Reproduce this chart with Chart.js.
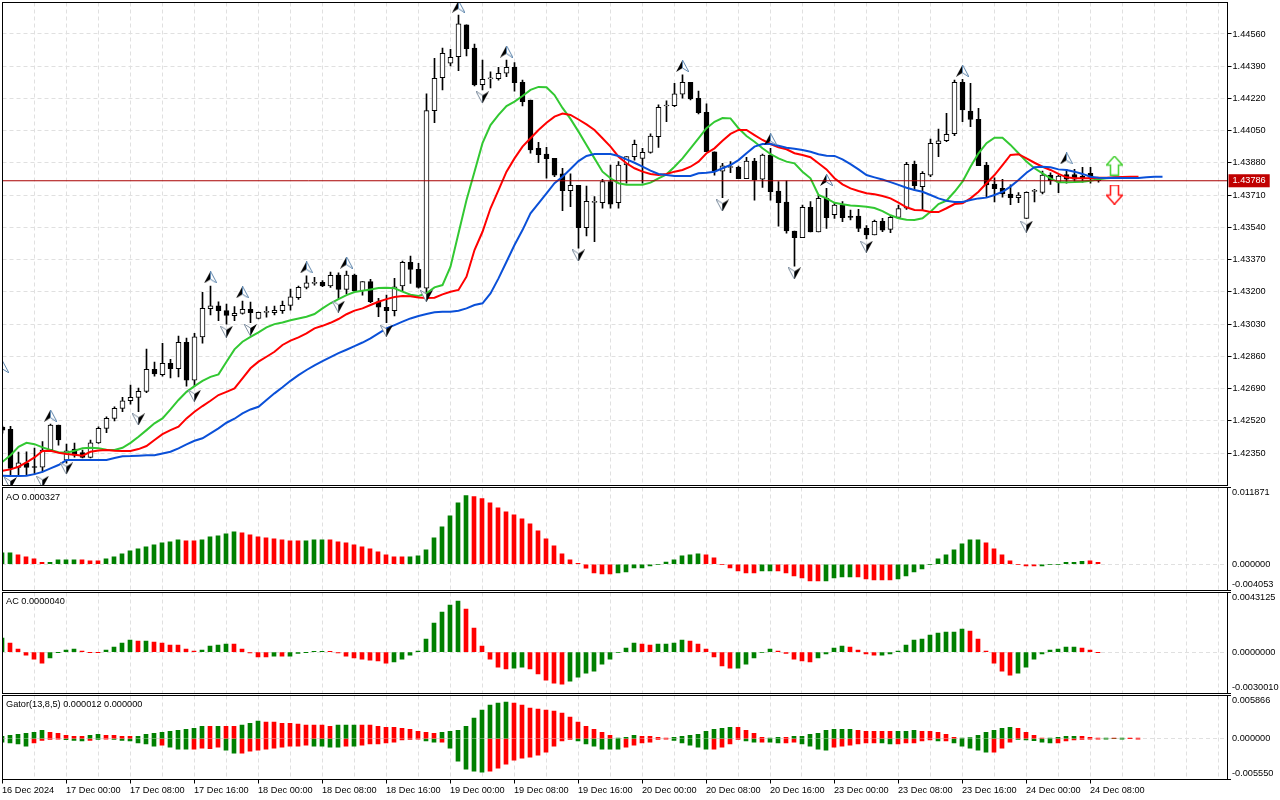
<!DOCTYPE html>
<html>
<head>
<meta charset="utf-8">
<style>
body { margin: 0; background: #fff; width: 1280px; height: 800px; overflow: hidden; position: relative; }
canvas { position: absolute; left: 0; }
.frame { position: absolute; left: 2px; width: 1226px; box-sizing: border-box; border: 1px solid #000; pointer-events: none; }
.notch { position: absolute; left: 1228px; width: 3px; height: 1px; background: #000; }
.pane-title { position: absolute; left: 6px; font: 9.2px/12px "Liberation Sans", sans-serif; color: #000; }
</style>
</head>
<body>
<canvas id="main-chart" width="1280" height="486" style="top:0"></canvas>
<canvas id="ao-chart" width="1280" height="104" style="top:487px"></canvas>
<canvas id="ac-chart" width="1280" height="102" style="top:592px"></canvas>
<canvas id="gator-chart" width="1280" height="105" style="top:695px"></canvas>
<div class="frame" style="top:2px;height:484px"></div>
<div class="frame" style="top:487px;height:104px"></div>
<div class="frame" style="top:592px;height:102px"></div>
<div class="frame" style="top:695px;height:85px"></div>
<div class="notch" style="top:487px"></div><div class="notch" style="top:590px"></div>
<div class="notch" style="top:592px"></div><div class="notch" style="top:693px"></div>
<div class="notch" style="top:695px"></div><div class="notch" style="top:779px"></div>
<div class="pane-title" style="top:491px">AO 0.000327</div>
<div class="pane-title" style="top:595px">AC 0.0000040</div>
<div class="pane-title" style="top:698px">Gator(13,8,5) 0.000012 0.000000</div>
<script src="https://cdn.jsdelivr.net/npm/chart.js@4"></script>
<script>
const xTickLabels = ["16 Dec 2024", "17 Dec 00:00", "17 Dec 08:00", "17 Dec 16:00", "18 Dec 00:00", "18 Dec 08:00",
    "18 Dec 16:00", "19 Dec 00:00", "19 Dec 08:00", "19 Dec 16:00", "20 Dec 00:00", "20 Dec 08:00", "20 Dec 16:00",
    "23 Dec 00:00", "23 Dec 08:00", "23 Dec 16:00", "24 Dec 00:00", "24 Dec 08:00"];
const priceTicks = [1.4456, 1.4439, 1.4422, 1.4405, 1.4388, 1.4371, 1.4354, 1.4337, 1.432, 1.4303, 1.4286, 1.4269, 1.4252, 1.4235];
const lastPrice = 1.43786;

const candleOpen = [
    1.42487,1.42475,1.42275,1.42299,1.42275,1.42276,1.42366,1.42498,1.42313,1.42371,
    1.42352,1.42327,1.42404,1.42480,1.42533,1.42586,1.42626,1.42644,1.42675,1.42791,
    1.42763,1.42823,1.42795,1.42934,1.42735,1.42963,1.43111,1.43127,1.43101,1.43074,
    1.43087,1.43108,1.43060,1.43092,1.43090,1.43101,1.43129,1.43169,1.43224,1.43245,
    1.43250,1.43232,1.43289,1.43213,1.43289,1.43206,1.43254,1.43148,1.43119,1.43101,
    1.43231,1.43356,1.43319,1.43219,1.44156,1.44330,1.44406,1.44440,1.44608,1.44485,
    1.44293,1.44323,1.44324,1.44353,1.44384,1.44305,1.44212,1.43957,1.43927,1.43904,
    1.43822,1.43734,1.43762,1.43538,1.43672,1.43670,1.43781,1.43670,1.43869,1.43913,
    1.43904,1.43936,1.44018,1.44180,1.44182,1.44242,1.44305,1.44221,1.44147,1.43939,
    1.43837,1.43856,1.43857,1.43797,1.43890,1.43794,1.43922,1.43732,1.43674,1.43521,
    1.43486,1.43646,1.43516,1.43693,1.43607,1.43658,1.43596,1.43600,1.43535,1.43501,
    1.43572,1.43530,1.43593,1.43641,1.43873,1.43755,1.43816,1.43981,1.43997,1.44034,
    1.44305,1.44154,1.44110,1.43869,1.43769,1.43746,1.43716,1.43697,1.43588,1.43730,
    1.43725,1.43816,1.43779,1.43818,1.43818,1.43811,1.43825,1.43790];
const candleHigh = [
    1.42492,1.42491,1.42355,1.42357,1.42376,1.42410,1.42503,1.42498,1.42397,1.42403,
    1.42366,1.42419,1.42489,1.42541,1.42594,1.42644,1.42709,1.42693,1.42899,1.42830,
    1.42929,1.42844,1.42967,1.42957,1.42981,1.43198,1.43231,1.43148,1.43136,1.43122,
    1.43152,1.43146,1.43094,1.43122,1.43125,1.43152,1.43215,1.43231,1.43284,1.43277,
    1.43259,1.43305,1.43301,1.43310,1.43294,1.43254,1.43266,1.43166,1.43183,1.43271,
    1.43363,1.43389,1.43351,1.44244,1.44432,1.44485,1.44479,1.44660,1.44608,1.44507,
    1.44423,1.44360,1.44384,1.44423,1.44409,1.44317,1.44212,1.43989,1.43962,1.43904,
    1.43852,1.43822,1.43762,1.43758,1.43702,1.43794,1.43869,1.43887,1.43913,1.44001,
    1.43957,1.44033,1.44186,1.44208,1.44300,1.44344,1.44305,1.44259,1.44191,1.43939,
    1.43878,1.43887,1.43864,1.43910,1.43904,1.43927,1.43957,1.43781,1.43785,1.43521,
    1.43658,1.43676,1.43711,1.43746,1.43670,1.43676,1.43632,1.43635,1.43549,1.43579,
    1.43588,1.43600,1.43658,1.43883,1.43890,1.43834,1.44006,1.44059,1.44142,1.44317,
    1.44321,1.44300,1.44168,1.43883,1.43801,1.43794,1.43764,1.43723,1.43728,1.43741,
    1.43837,1.43828,1.43816,1.43846,1.43846,1.43857,1.43857,1.43801];
const candleLow = [
    1.42455,1.42225,1.42229,1.42234,1.42239,1.42251,1.42357,1.42392,1.42297,1.42329,
    1.42324,1.42324,1.42401,1.42457,1.42520,1.42568,1.42608,1.42568,1.42668,1.42756,
    1.42756,1.42746,1.42752,1.42703,1.42703,1.42929,1.43078,1.43048,1.43030,1.43048,
    1.43083,1.43037,1.43058,1.43066,1.43079,1.43087,1.43104,1.43160,1.43215,1.43235,
    1.43227,1.43224,1.43166,1.43189,1.43201,1.43183,1.43143,1.43069,1.43037,1.43073,
    1.43201,1.43245,1.43219,1.43174,1.44092,1.44265,1.44391,1.44366,1.44444,1.44286,
    1.44265,1.44275,1.44317,1.44335,1.44259,1.44180,1.43931,1.43881,1.43799,1.43807,
    1.43628,1.43649,1.43430,1.43495,1.43465,1.43641,1.43641,1.43641,1.43773,1.43895,
    1.43773,1.43931,1.43962,1.44097,1.44177,1.44221,1.44212,1.44138,1.43939,1.43816,
    1.43697,1.43828,1.43797,1.43797,1.43684,1.43751,1.43684,1.43547,1.43509,1.43336,
    1.43486,1.43516,1.43516,1.43535,1.43588,1.43570,1.43579,1.43517,1.43479,1.43500,
    1.43517,1.43512,1.43588,1.43635,1.43737,1.43632,1.43807,1.43913,1.43992,1.44024,
    1.44097,1.44071,1.43865,1.43699,1.43674,1.43699,1.43660,1.43670,1.43588,1.43674,
    1.43716,1.43767,1.43723,1.43773,1.43781,1.43779,1.43773,1.43778];
const candleClose = [
    1.42471,1.42269,1.42299,1.42275,1.42274,1.42366,1.42498,1.42419,1.42362,1.42339,
    1.42327,1.42404,1.42480,1.42533,1.42586,1.42626,1.42644,1.42675,1.42791,1.42767,
    1.42823,1.42795,1.42934,1.42735,1.42963,1.43113,1.43127,1.43101,1.43076,1.43087,
    1.43108,1.43090,1.43092,1.43094,1.43103,1.43129,1.43174,1.43224,1.43248,1.43247,
    1.43232,1.43287,1.43213,1.43289,1.43206,1.43254,1.43148,1.43119,1.43101,1.43227,
    1.43356,1.43319,1.43224,1.44156,1.44326,1.44458,1.44437,1.44613,1.44483,1.44291,
    1.44321,1.44324,1.44353,1.44384,1.44303,1.44203,1.43948,1.43923,1.43902,1.43816,
    1.43734,1.43762,1.43538,1.43678,1.43674,1.43781,1.43663,1.43869,1.43913,1.43978,
    1.43936,1.44022,1.44173,1.44182,1.44244,1.44305,1.44217,1.44145,1.43939,1.43839,
    1.43865,1.43860,1.43797,1.43890,1.43790,1.43922,1.43728,1.43670,1.43521,1.43486,
    1.43646,1.43516,1.43693,1.43591,1.43658,1.43591,1.43593,1.43535,1.43500,1.43572,
    1.43526,1.43593,1.43639,1.43873,1.43760,1.43825,1.43984,1.43997,1.44031,1.44305,
    1.44159,1.44110,1.43865,1.43764,1.43744,1.43716,1.43697,1.43711,1.43725,1.43732,
    1.43816,1.43786,1.43811,1.43794,1.43794,1.43797,1.43804,1.43786];

const lipsLine = [
    1.42304,1.42339,1.42383,1.42404,1.42397,1.42380,1.42366,1.42355,1.42352,1.42362,
    1.42375,1.42378,1.42375,1.42367,1.42366,1.42378,1.42404,1.42436,1.42471,1.42507,
    1.42533,1.42580,1.42630,1.42673,1.42703,1.42731,1.42752,1.42765,1.42832,1.42897,
    1.42937,1.42963,1.42987,1.43013,1.43030,1.43039,1.43050,1.43060,1.43069,1.43083,
    1.43113,1.43140,1.43162,1.43183,1.43199,1.43206,1.43213,1.43220,1.43222,1.43219,
    1.43201,1.43185,1.43178,1.43192,1.43224,1.43236,1.43333,1.43509,1.43684,1.43834,
    1.43984,1.44080,1.44133,1.44180,1.44203,1.44233,1.44265,1.44281,1.44279,1.44238,
    1.44170,1.44112,1.44045,1.43975,1.43904,1.43834,1.43799,1.43773,1.43765,1.43765,
    1.43765,1.43776,1.43799,1.43820,1.43860,1.43904,1.43957,1.44010,1.44063,1.44097,
    1.44117,1.44115,1.44063,1.44022,1.43992,1.43957,1.43927,1.43904,1.43887,1.43878,
    1.43834,1.43799,1.43711,1.43693,1.43670,1.43662,1.43656,1.43653,1.43649,1.43642,
    1.43626,1.43604,1.43588,1.43581,1.43579,1.43588,1.43623,1.43663,1.43681,1.43728,
    1.43781,1.43860,1.43931,1.43984,1.44013,1.44013,1.43975,1.43931,1.43887,1.43852,
    1.43825,1.43799,1.43778,1.43778,1.43779,1.43781,1.43786,1.43794,1.43799,1.43802,1.43802];
const teethLine = [
    1.42257,1.42264,1.42278,1.42301,1.42327,1.42361,1.42362,1.42352,1.42345,1.42341,
    1.42336,1.42357,1.42364,1.42366,1.42362,1.42361,1.42361,1.42371,1.42387,1.42419,
    1.42450,1.42471,1.42489,1.42533,1.42568,1.42598,1.42626,1.42656,1.42673,1.42691,
    1.42744,1.42797,1.42832,1.42858,1.42884,1.42920,1.42943,1.42960,1.42981,1.43008,
    1.43021,1.43037,1.43057,1.43082,1.43101,1.43113,1.43131,1.43148,1.43162,1.43173,
    1.43178,1.43177,1.43171,1.43168,1.43169,1.43187,1.43201,1.43210,1.43280,1.43421,
    1.43517,1.43641,1.43737,1.43834,1.43904,1.43966,1.44010,1.44054,1.44092,1.44124,
    1.44140,1.44133,1.44109,1.44083,1.44054,1.44010,1.43966,1.43913,1.43878,1.43852,
    1.43834,1.43822,1.43816,1.43822,1.43834,1.43843,1.43860,1.43887,1.43931,1.43957,
    1.43997,1.44033,1.44054,1.44054,1.44027,1.44001,1.43980,1.43962,1.43952,1.43931,
    1.43922,1.43910,1.43878,1.43846,1.43799,1.43767,1.43746,1.43732,1.43720,1.43715,
    1.43706,1.43693,1.43671,1.43646,1.43632,1.43630,1.43621,1.43621,1.43641,1.43663,
    1.43667,1.43693,1.43728,1.43773,1.43816,1.43869,1.43922,1.43926,1.43904,1.43881,
    1.43860,1.43843,1.43822,1.43804,1.43799,1.43799,1.43799,1.43802,1.43802,1.43804,
    1.43806,1.43807,1.43807];
const jawLine = [
    1.42230,1.42229,1.42229,1.42230,1.42239,1.42251,1.42269,1.42287,1.42313,1.42313,
    1.42313,1.42313,1.42313,1.42313,1.42324,1.42333,1.42334,1.42336,1.42338,1.42339,
    1.42348,1.42357,1.42375,1.42396,1.42415,1.42428,1.42454,1.42480,1.42510,1.42531,
    1.42559,1.42580,1.42594,1.42630,1.42665,1.42697,1.42731,1.42761,1.42788,1.42813,
    1.42835,1.42856,1.42877,1.42895,1.42914,1.42933,1.42955,1.42981,1.43008,1.43025,
    1.43043,1.43060,1.43073,1.43083,1.43092,1.43095,1.43095,1.43101,1.43113,1.43131,
    1.43140,1.43192,1.43271,1.43359,1.43447,1.43526,1.43614,1.43667,1.43720,1.43773,
    1.43807,1.43848,1.43890,1.43917,1.43927,1.43927,1.43927,1.43917,1.43899,1.43881,
    1.43860,1.43839,1.43822,1.43816,1.43811,1.43811,1.43811,1.43825,1.43828,1.43834,
    1.43852,1.43869,1.43895,1.43931,1.43966,1.43980,1.43980,1.43971,1.43960,1.43955,
    1.43948,1.43939,1.43926,1.43918,1.43917,1.43899,1.43874,1.43846,1.43816,1.43804,
    1.43793,1.43779,1.43764,1.43749,1.43737,1.43728,1.43711,1.43693,1.43681,1.43674,
    1.43674,1.43684,1.43693,1.43697,1.43711,1.43728,1.43755,1.43790,1.43828,1.43857,
    1.43860,1.43857,1.43846,1.43843,1.43834,1.43822,1.43807,1.43802,1.43801,1.43802,
    1.43801,1.43801,1.43801,1.43804,1.43807,1.43807];

const fractalUpBars = [0, 6, 26, 30, 38, 43, 57, 63, 85, 96, 103, 120, 133];
const fractalUpPrices = [1.42804, 1.42547, 1.43277, 1.43198, 1.43329, 1.43354, 1.44704, 1.44467, 1.44391, 1.44005, 1.43790, 1.44366, 1.43904];
const fractalDownBars = [1, 5, 8, 17, 24, 28, 31, 42, 48, 53, 60, 72, 90, 99, 108, 128];
const fractalDownPrices = [1.42192, 1.42199, 1.42269, 1.42528, 1.42652, 1.42990, 1.42999, 1.43122, 1.42995, 1.43178, 1.44226, 1.43392, 1.43656, 1.43298, 1.43438, 1.43544];
const signalBars = [139, 139];
const signalPrices = [1.43866, 1.43713];

const aoValues = [
    .00176,.00176,.00145,.00114,.00083,.00031,.00031,.00067,.00067,.00067,
    .00067,.00052,.00052,.00083,.00114,.00160,.00207,.00238,.00269,.00300,
    .00331,.00347,.00378,.00362,.00362,.00378,.00424,.00440,.00471,.00502,
    .00486,.00455,.00424,.00409,.00393,.00378,.00362,.00362,.00362,.00378,
    .00378,.00378,.00347,.00331,.00300,.00269,.00238,.00191,.00145,.00114,
    .00114,.00114,.00129,.00222,.00409,.00579,.00750,.00952,.01061,.01045,
    .01014,.00952,.00874,.00812,.00766,.00704,.00626,.00517,.00393,.00285,
    .00160,.00067,.00016,-.00062,-.00135,-.00150,-.00150,-.00135,-.00119,-.00057,
    -.00057,-.00026,-.00005,.00036,.00067,.00129,.00145,.00160,.00145,.00098,
    -.00005,-.00057,-.00103,-.00135,-.00135,-.00103,-.00103,-.00103,-.00135,-.00181,
    -.00212,-.00259,-.00259,-.00259,-.00212,-.00197,-.00197,-.00197,-.00228,-.00243,
    -.00243,-.00243,-.00228,-.00181,-.00119,-.00072,-.00005,.00083,.00145,.00222,
    .00316,.00378,.00378,.00331,.00238,.00145,.00052,-.00005,-.00026,-.00026,
    -.00026,-.00005,-.00005,.00031,.00031,.00047,.00052,.00031];
const aoRising = "11" + "0000" + "1111" + "000" + "1111111111" + "00" + "11111" + "00000000" + "111" + "0000000000" +
    "11111111" + "000000000000000000" + "11111111111" + "0000000" + "11" + "000000" + "1111" + "00000" +
    "11111111111" + "0000000" + "111111" + "00";

const acValues = [
    .00101,.00065,.00022,-.00022,-.00051,-.00080,-.00043,-.00002,.00014,.00022,
    .00007,-.00002,-.00002,.00014,.00036,.00065,.00087,.00080,.00080,.00072,
    .00065,.00051,.00051,.00022,.00007,.00014,.00043,.00051,.00058,.00058,
    .00022,-.00007,-.00036,-.00036,-.00029,-.00029,-.00029,-.00010,-.00002,.00005,
    .00005,.00005,-.00007,-.00029,-.00043,-.00051,-.00058,-.00065,-.00080,-.00072,
    -.00051,-.00022,.00007,.00094,.00210,.00290,.00340,.00369,.00311,.00174,
    .00043,-.00051,-.00109,-.00123,-.00116,-.00109,-.00123,-.00159,-.00203,-.00225,
    -.00232,-.00210,-.00181,-.00152,-.00138,-.00087,-.00051,-.00005,.00029,.00065,
    .00058,.00051,.00058,.00058,.00065,.00087,.00080,.00058,.00022,-.00036,
    -.00101,-.00116,-.00116,-.00087,-.00043,-.00005,.00022,.00007,-.00010,-.00051,
    -.00065,-.00072,-.00043,-.00014,.00029,.00043,.00036,.00014,-.00014,-.00022,
    -.00022,-.00014,.00007,.00051,.00087,.00094,.00123,.00138,.00145,.00145,
    .00167,.00152,.00094,.00007,-.00080,-.00138,-.00167,-.00152,-.00109,-.00051,
    -.00014,.00014,.00022,.00036,.00036,.00029,.00014,-.00002];
const acRising = "1" + "00000" + "1111" + "000" + "1111" + "0" + "1" + "000000" + "1111" + "00000" + "1" + "0" + "11111" +
    "00000000" + "111111111" + "000000" + "11" + "00000" + "111111111" + "00" + "1111" + "000000" + "11111" +
    "00000" + "1111" + "0000" + "11111111111" + "000000" + "11111111" + "000";

const gatorUpper = [
    .00032,.00046,.00059,.00073,.00087,.00114,.00087,.00073,.00046,.00032,
    .00032,.00046,.00059,.00046,.00046,.00032,.00032,.00032,.00059,.00073,
    .00087,.00101,.00114,.00128,.00142,.00169,.00169,.00169,.00169,.00169,
    .00183,.00210,.00238,.00224,.00224,.00210,.00210,.00197,.00183,.00183,
    .00183,.00169,.00183,.00183,.00183,.00183,.00183,.00169,.00155,.00155,
    .00142,.00128,.00101,.00087,.00073,.00087,.00101,.00114,.00169,.00279,
    .00388,.00457,.00484,.00498,.00484,.00457,.00416,.00402,.00388,.00375,
    .00347,.00292,.00224,.00169,.00128,.00087,.00046,.00005,.00018,.00046,
    .00032,.00032,.00018,.00005,.00018,.00032,.00046,.00059,.00101,.00128,
    .00142,.00155,.00155,.00114,.00073,.00018,.00009,.00018,.00018,.00032,
    .00032,.00059,.00073,.00114,.00128,.00128,.00128,.00114,.00101,.00101,
    .00101,.00101,.00101,.00101,.00114,.00101,.00101,.00087,.00059,.00018,
    .00005,.00014,.00046,.00087,.00114,.00142,.00155,.00142,.00087,.00046,
    .00005,.00005,.00018,.00032,.00032,.00032,.00018,.00005,.00005,.00005,
    .00005,.00005,.00005];
const gatorUpperRising = "111111" + "00000" + "11" + "0000" + "111111111" + "0" + "1" + "00" + "111" + "000000000" + "111" +
    "0000000000" + "111111111" + "0000000000000" + "111" + "0000" + "11111111" + "0000" + "11" + "0" + "11111111" +
    "00000" + "111" + "00000" + "1111111" + "0000" + "1" + "111" + "000" + "1" + "0" + "1" + "00";

const gatorLower = [
    -.00046,-.00059,-.00073,-.00101,-.00059,-.00023,-.00009,-.00005,-.00014,-.00023,
    -.00032,-.00023,-.00009,-.00005,-.00009,-.00023,-.00032,-.00059,-.00073,-.00101,
    -.00087,-.00114,-.00142,-.00142,-.00142,-.00128,-.00137,-.00114,-.00155,-.00197,
    -.00197,-.00169,-.00155,-.00142,-.00128,-.00114,-.00101,-.00101,-.00087,-.00101,
    -.00101,-.00114,-.00114,-.00101,-.00101,-.00087,-.00073,-.00073,-.00059,-.00046,
    -.00018,-.00009,-.00005,-.00032,-.00046,-.00046,-.00128,-.00306,-.00416,-.00443,
    -.00457,-.00443,-.00402,-.00347,-.00292,-.00265,-.00251,-.00224,-.00183,-.00101,
    -.00032,-.00009,-.00032,-.00073,-.00101,-.00142,-.00142,-.00142,-.00114,-.00087,
    -.00059,-.00046,-.00009,-.00005,-.00023,-.00059,-.00087,-.00114,-.00142,-.00142,
    -.00114,-.00073,-.00009,-.00032,-.00046,-.00046,-.00046,-.00059,-.00059,-.00046,
    -.00073,-.00101,-.00142,-.00155,-.00114,-.00101,-.00087,-.00073,-.00059,-.00059,
    -.00059,-.00073,-.00073,-.00059,-.00059,-.00032,-.00018,-.00032,-.00032,-.00059,
    -.00101,-.00128,-.00155,-.00183,-.00183,-.00128,-.00046,-.00009,-.00018,-.00027,
    -.00046,-.00059,-.00059,-.00032,-.00018,-.00009,-.00005,-.00005,-.00005,0,
    -.00005,0,-.00005];
const gatorLowerRising = "1111" + "0000" + "111" + "0" + "1" + "0" + "111111" + "0" + "111" + "0000" + "11" + "000000000" + "1111" +
    "0" + "1" + "00000000" + "11" + "0" + "11111" + "00000000000" + "111111" + "000000" + "11111" + "0000" + "11" + "0" +
    "11" + "00" + "1111" + "000000" + "11" + "00000" + "1" + "0" + "11111" + "000" + "11111" + "000000" + "111" + "00";

const GRID_COLOR = "#e0e0e0";
const HIST_GREEN = "#008000";
const HIST_RED = "#ff0000";
const AXIS_FONT = { family: '"Liberation Sans", sans-serif', size: 9.2 };
// plot is 1225px wide and one bar takes 8px
const LAST_X = 1225 / 8;

const make_sprite = (w, h, paint) => {
    const c = document.createElement("canvas");
    c.width = w;
    c.height = h;
    paint(c.getContext("2d"));
    return c;
};

const fractal_up = make_sprite(13, 12, ctx => {
    ctx.beginPath(); ctx.moveTo(6.5, 0); ctx.lineTo(6.5, 8); ctx.lineTo(0, 12); ctx.closePath();
    ctx.fillStyle = "#000"; ctx.fill();
    ctx.beginPath(); ctx.moveTo(6.5, 0); ctx.lineTo(13, 12); ctx.lineTo(6.5, 8); ctx.closePath();
    ctx.fillStyle = "#fff"; ctx.fill();
    ctx.strokeStyle = "#5f86ad"; ctx.lineWidth = 1; ctx.stroke();
});
const fractal_down = make_sprite(13, 12, ctx => {
    ctx.beginPath(); ctx.moveTo(6.5, 12); ctx.lineTo(0, 0); ctx.lineTo(6.5, 4); ctx.closePath();
    ctx.fillStyle = "#fff"; ctx.fill();
    ctx.strokeStyle = "#7f8fa0"; ctx.lineWidth = 1; ctx.stroke();
    ctx.beginPath(); ctx.moveTo(6.5, 12); ctx.lineTo(6.5, 4); ctx.lineTo(13, 0); ctx.closePath();
    ctx.fillStyle = "#000"; ctx.fill();
});
const arrow_path = (ctx, flip) => {
    const pts = [[8.5, 0.5], [16.5, 9.5], [12.5, 9.5], [12.5, 19.5], [4.5, 19.5], [4.5, 9.5], [0.5, 9.5]];
    ctx.beginPath();
    pts.forEach(([x, y]) => ctx.lineTo(x, flip ? 20 - y : y));
    ctx.closePath();
};
const signal_up = make_sprite(17, 20, ctx => {
    arrow_path(ctx, false);
    ctx.fillStyle = "#fff"; ctx.fill();
    ctx.strokeStyle = "#4fd23c"; ctx.lineWidth = 1.6; ctx.stroke();
});
const signal_down = make_sprite(17, 20, ctx => {
    arrow_path(ctx, true);
    ctx.fillStyle = "#fff"; ctx.fill();
    ctx.strokeStyle = "#ff2020"; ctx.lineWidth = 1.6; ctx.stroke();
});

const hide_padding = (scale) => {
    scale.paddingTop = scale.paddingBottom = scale.paddingLeft = scale.paddingRight = 0;
};

const x_scale = (showLabels, height) => ({
    type: "linear",
    min: 0,
    max: LAST_X,
    offset: false,
    grid: {
        offset: false,
        drawTicks: showLabels,
        tickLength: 4,
        color: ctx => (ctx.tick && ctx.tick.value === 0 ? "transparent" : GRID_COLOR),
        tickColor: ctx => (ctx.tick && ctx.tick.value % 8 === 0 && ctx.tick.value <= 136 ? "#000" : "transparent"),
    },
    border: { display: false, dash: [4, 3] },
    ticks: {
        display: showLabels,
        autoSkip: false,
        maxRotation: 0,
        minRotation: 0,
        align: "start",
        padding: 1,
        color: "#000",
        font: AXIS_FONT,
        callback: v => (v % 8 === 0 && xTickLabels[v / 8]) || "",
    },
    afterBuildTicks: scale => {
        const ticks = [];
        for (let v = 0; v <= 152; v += 4) ticks.push({ value: v });
        scale.ticks = ticks;
    },
    afterFit: scale => {
        scale.height = height;
        hide_padding(scale);
    },
});

// top and bottom axis labels sit just inside the pane edge, not on it
const pane_y_scale = (maxValue, minValue, labels, paneHeight, axisWidth) => ({
    type: "linear",
    position: "right",
    min: minValue,
    max: maxValue,
    grid: {
        drawTicks: false,
        color: ctx => (ctx.tick && ctx.tick.value === 0 ? GRID_COLOR : "transparent"),
    },
    border: { display: false, dash: [4, 3] },
    ticks: {
        autoSkip: false,
        padding: 5,
        color: "#000",
        font: AXIS_FONT,
        callback: (v, i) => labels[i],
    },
    afterBuildTicks: scale => {
        const span = maxValue - minValue;
        scale.ticks = [
            { value: minValue + span * 6 / paneHeight },
            { value: 0 },
            { value: maxValue - span * 4.6 / paneHeight },
        ];
    },
    afterFit: scale => {
        scale.width = axisWidth;
        hide_padding(scale);
    },
});

const bar_points = values => values.map((y, x) => ({ x: x, y: y }));
const rising_colors = flags => [...flags].map(f => (f === "1" ? HIST_GREEN : HIST_RED));
const points_at = (bars, prices) => bars.map((x, i) => ({ x: x, y: prices[i] }));

const hist_chart = (id, datasets, yScale, xHeight, bottomPad) => new Chart(document.getElementById(id), {
    type: "bar",
    data: { datasets: datasets },
    options: {
        responsive: false,
        animation: false,
        devicePixelRatio: 1,
        layout: { autoPadding: false, padding: { left: 2, top: 0.5, right: 0, bottom: bottomPad } },
        plugins: { legend: { display: false }, tooltip: { enabled: false } },
        scales: { x: x_scale(xHeight > 0, xHeight), y: yScale },
    },
});

new Chart(document.getElementById("main-chart"), {
    type: "bar",
    data: {
        datasets: [
            {
                type: "line", order: 1, data: points_at([0, LAST_X], [lastPrice, lastPrice]),
                borderColor: "#a80000", borderWidth: 1, pointRadius: 0,
            },
            {
                type: "scatter", order: 2, data: points_at(fractalUpBars, fractalUpPrices),
                pointStyle: fractal_up,
            },
            {
                type: "scatter", order: 2, data: points_at(fractalDownBars, fractalDownPrices),
                pointStyle: fractal_down,
            },
            {
                type: "scatter", order: 2, data: points_at(signalBars, signalPrices),
                pointStyle: [signal_up, signal_down], clip: false,
            },
            {
                type: "line", order: 3, data: bar_points(jawLine),
                borderColor: "#0a50d8", borderWidth: 2, pointRadius: 0, tension: 0,
            },
            {
                type: "line", order: 3, data: bar_points(teethLine),
                borderColor: "#ff0000", borderWidth: 2, pointRadius: 0, tension: 0,
            },
            {
                type: "line", order: 3, data: bar_points(lipsLine),
                borderColor: "#32c832", borderWidth: 2, pointRadius: 0, tension: 0,
            },
            {
                order: 4, barThickness: 5, grouped: false, minBarLength: 1, borderSkipped: false, borderWidth: 1,
                borderColor: "#000",
                backgroundColor: candleClose.map((c, i) => (c >= candleOpen[i] ? "#fff" : "#000")),
                data: candleOpen.map((o, i) => ({ x: i, y: [o, candleClose[i]] })),
            },
            {
                order: 5, barThickness: 1, grouped: false, backgroundColor: "#000",
                data: candleLow.map((l, i) => ({ x: i, y: [l, candleHigh[i]] })),
            },
        ],
    },
    options: {
        responsive: false,
        animation: false,
        devicePixelRatio: 1,
        layout: { autoPadding: false, padding: { left: 2.5, top: 2.5, right: 0, bottom: 0.5 } },
        plugins: { legend: { display: false }, tooltip: { enabled: false } },
        scales: {
            x: x_scale(false, 0),
            y: {
                type: "linear",
                position: "right",
                min: 1.42179,
                max: 1.44726,
                grid: {
                    tickLength: 4,
                    color: ctx => (ctx.tick && ctx.tick.value === lastPrice ? "transparent" : GRID_COLOR),
                    tickColor: ctx => (ctx.tick && ctx.tick.value === lastPrice ? "transparent" : "#000"),
                },
                border: { display: false, dash: [4, 3] },
                ticks: {
                    autoSkip: false,
                    padding: 1,
                    font: AXIS_FONT,
                    color: ctx => (ctx.tick.value === lastPrice ? "#fff" : "#000"),
                    showLabelBackdrop: ctx => ctx.tick.value === lastPrice,
                    backdropColor: "#c00000",
                    backdropPadding: { top: 1, bottom: 1, left: 4, right: 4 },
                    callback: v => v.toFixed(5),
                },
                afterBuildTicks: scale => {
                    scale.ticks = priceTicks.concat(lastPrice).map(v => ({ value: v }));
                },
                afterFit: scale => {
                    scale.width = 52.5;
                    hide_padding(scale);
                },
            },
        },
    },
});

hist_chart("ao-chart", [{
    data: bar_points(aoValues), backgroundColor: rising_colors(aoRising), barThickness: 4, grouped: false,
}], pane_y_scale(0.011871, -0.004053, ["-0.004053", "0.000000", "0.011871"], 103, 53), 0, 0.5);

hist_chart("ac-chart", [{
    data: bar_points(acValues), backgroundColor: rising_colors(acRising), barThickness: 4, grouped: false,
}], pane_y_scale(0.0043125, -0.003001, ["-0.0030010", "0.0000000", "0.0043125"], 101, 53), 0, 0.5);

hist_chart("gator-chart", [{
    data: bar_points(gatorUpper), backgroundColor: rising_colors(gatorUpperRising), barThickness: 4, grouped: false,
}, {
    data: bar_points(gatorLower), backgroundColor: rising_colors(gatorLowerRising), barThickness: 4, grouped: false,
}], pane_y_scale(0.005866, -0.00555, ["-0.005550", "0.000000", "0.005866"], 84, 53), 20.5, 0);
</script>
</body>
</html>
